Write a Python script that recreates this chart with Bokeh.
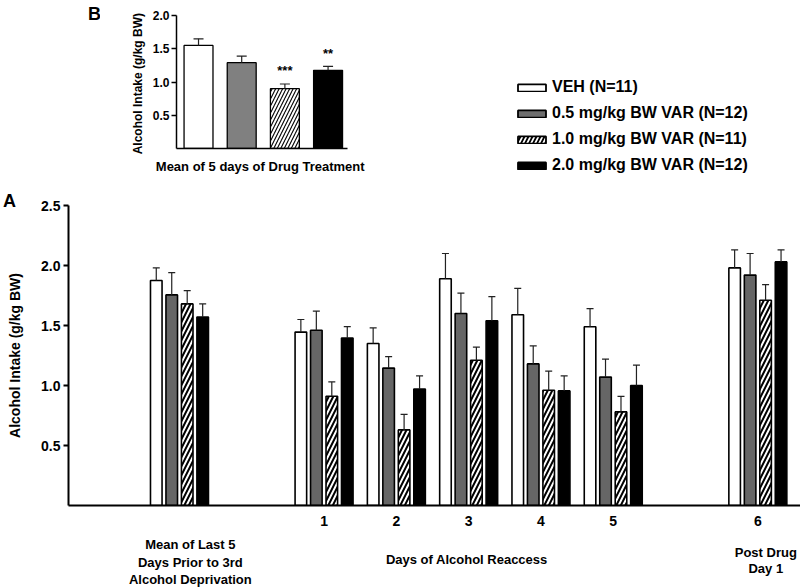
import numpy as np
from bokeh.plotting import figure
from bokeh.models import (ColumnDataSource, Whisker, TeeHead, Range1d, FixedTicker,
                          Legend, LegendItem, NumeralTickFormatter)
from bokeh.core.properties import value
from bokeh.layouts import column, row
from bokeh.embed import file_html
from bokeh.resources import INLINE

FONT = "Liberation Sans"

# ---------------- data ----------------
series_names = ["VEH (N=11)", "0.5 mg/kg BW VAR (N=12)",
                "1.0 mg/kg BW VAR (N=11)", "2.0 mg/kg BW VAR (N=12)"]

# Panel A
group_pos = [0, 2, 3, 4, 5, 6, 8]
day_tick_pos = [2, 3, 4, 5, 6, 8]
day_tick_labels = ["1", "2", "3", "4", "5", "6"]
veh = [1.875, 1.445, 1.35, 1.89, 1.59, 1.49, 1.98]
veh_err = [0.105, 0.105, 0.13, 0.21, 0.22, 0.15, 0.15]
var05 = [1.755, 1.46, 1.145, 1.60, 1.18, 1.07, 1.92]
var05_err = [0.185, 0.16, 0.095, 0.17, 0.15, 0.15, 0.18]
var10 = [1.68, 0.91, 0.63, 1.21, 0.96, 0.78, 1.71]
var10_err = [0.11, 0.12, 0.13, 0.11, 0.16, 0.13, 0.13]
var20 = [1.57, 1.395, 0.97, 1.54, 0.955, 1.00, 2.03]
var20_err = [0.11, 0.095, 0.11, 0.20, 0.125, 0.17, 0.10]
group_label_pos = [0.15, 4.0, 8.11]
group_label_lines = [["Mean of Last 5", "Days Prior to 3rd", "Alcohol Deprivation"],
                     ["Days of  Alcohol Reaccess"],
                     ["Post Drug", "Day 1"]]

# Panel B
b_means = [1.55, 1.29, 0.90, 1.175]
b_err = [0.10, 0.10, 0.07, 0.06]
b_stars = ["", "", "***", "**"]

main_fills = ["white", "#666666", "white", "black"]
inset_fills = ["white", "#808080", "white", "black"]
legend_fills = ["white", "#6e6e6e", "white", "black"]
hatches = [" ", " ", "/", " "]


def bare(fig):
    fig.grid.visible = False
    fig.outline_line_color = None
    return fig


# ---------------- Panel B (inset) ----------------
bfig = bare(figure(width=100, height=190, x_range=Range1d(0, 100), y_range=Range1d(190, 0),
                   x_axis_location=None, y_axis_location=None, min_border=0,
                   output_backend="svg", toolbar_location=None))
bfig.text(x=[94], y=[13], text=["B"], text_font=value(FONT), text_font_style="bold",
          text_font_size="18px", text_align="center", text_baseline="middle", text_color="black")

inset = bare(figure(width=320, height=190, x_range=Range1d(-0.51, 3.45), y_range=Range1d(0, 2.0),
                    output_backend="svg", toolbar_location=None,
                    min_border_left=76, min_border_right=73, min_border_top=15, min_border_bottom=42))
bx = np.arange(4, dtype=float)
bm = np.array(b_means)
for k in range(4):
    src = ColumnDataSource(dict(x=[bx[k]], top=[bm[k]], upper=[bm[k] + b_err[k]]))
    inset.add_layout(Whisker(source=src, base="x", lower="top", upper="upper",
                             dimension="height", line_color="#222222", line_width=1.2,
                             upper_head=TeeHead(size=10, line_width=1.2, line_color="#222222"),
                             lower_head=None, level="glyph"))
    inset.vbar(x="x", top="top", width=0.67, source=src, fill_color=inset_fills[k],
               line_color="black", line_width=1.3, hatch_pattern=hatches[k],
               hatch_color="black", hatch_weight=1.1, hatch_scale=7)
star_x = [bx[k] for k in range(4) if b_stars[k]]
star_y = [bm[k] + b_err[k] + 0.2 for k in range(4) if b_stars[k]]
star_t = [s for s in b_stars if s]
inset.text(x=star_x, y=star_y, text=star_t, text_font=value(FONT), text_font_style="bold",
           text_font_size="13px", text_align="center", text_baseline="middle", text_color="black")

inset.yaxis.ticker = FixedTicker(ticks=[0.5, 1.0, 1.5, 2.0])
inset.yaxis.formatter = NumeralTickFormatter(format="0.0")
inset.yaxis.minor_tick_line_color = None
inset.yaxis.major_tick_out = 5
inset.yaxis.major_tick_in = 0
inset.yaxis.major_tick_line_width = 1.5
inset.yaxis.axis_line_width = 1.5
inset.yaxis.major_label_standoff = 2
inset.yaxis.major_label_text_font = FONT
inset.yaxis.major_label_text_font_style = "bold"
inset.yaxis.major_label_text_font_size = "12px"
inset.yaxis.major_label_text_color = "black"
inset.yaxis.axis_label = "Alcohol  Intake (g/kg BW)"
inset.yaxis.axis_label_text_font = FONT
inset.yaxis.axis_label_text_font_style = "bold"
inset.yaxis.axis_label_text_font_size = "12px"
inset.yaxis.axis_label_text_color = "black"
inset.yaxis.axis_label_standoff = 5

inset.xaxis.ticker = FixedTicker(ticks=[])
inset.xaxis.minor_tick_line_color = None
inset.xaxis.axis_line_width = 1.5
inset.xaxis.axis_label = "Mean of 5 days of  Drug Treatment"
inset.xaxis.axis_label_text_font = FONT
inset.xaxis.axis_label_text_font_style = "bold"
inset.xaxis.axis_label_text_font_size = "13px"
inset.xaxis.axis_label_text_color = "black"
inset.xaxis.axis_label_standoff = 10

# ---------------- Legend ----------------
leg = bare(figure(width=380, height=190, x_range=Range1d(0, 1), y_range=Range1d(0, 1),
                  x_axis_location=None, y_axis_location=None, min_border=0,
                  output_backend="svg", toolbar_location=None))
items = []
for k in range(4):
    # zero-size helper renderer: only its legend swatch is visible
    r = leg.vbar(x=[0.5], top=[0], bottom=[0], width=0, fill_color=legend_fills[k],
                 line_color="black", line_width=1.8, hatch_pattern=hatches[k],
                 hatch_color="black", hatch_weight=1.8, hatch_scale=8)
    items.append(LegendItem(label=series_names[k], renderers=[r]))
legend = Legend(items=items, location=(94, 16), glyph_width=35, glyph_height=9,
                label_standoff=3, label_height=18, spacing=8, padding=0, margin=0,
                border_line_alpha=0, background_fill_alpha=0,
                label_text_font=FONT, label_text_font_style="bold",
                label_text_font_size="16px", label_text_color="black")
leg.add_layout(legend)

# ---------------- Panel A ----------------
afig = bare(figure(width=28, height=345, x_range=Range1d(0, 28), y_range=Range1d(535, 190),
                   x_axis_location=None, y_axis_location=None, min_border=0,
                   output_backend="svg", toolbar_location=None))
afig.text(x=[9], y=[200], text=["A"], text_font=value(FONT), text_font_style="bold",
          text_font_size="18px", text_align="center", text_baseline="middle", text_color="black")
afig.text(x=[14], y=[355], text=["Alcohol Intake (g/kg BW)"], angle=np.pi / 2,
          text_font=value(FONT), text_font_style="bold", text_font_size="14px",
          text_align="center", text_baseline="middle", text_color="black")

xr = Range1d(-1.535, 8.59)
main = bare(figure(width=772, height=345, x_range=xr, y_range=Range1d(0, 2.5),
                   output_backend="svg", toolbar_location=None,
                   min_border_left=40, min_border_right=0, min_border_top=15, min_border_bottom=30))

offsets = [-0.321, -0.107, 0.107, 0.321]
all_vals = [veh, var05, var10, var20]
all_errs = [veh_err, var05_err, var10_err, var20_err]
for k in range(4):
    xs = np.array(group_pos, dtype=float) + offsets[k]
    tops = np.array(all_vals[k])
    src = ColumnDataSource(dict(x=xs, top=tops, upper=tops + np.array(all_errs[k])))
    main.add_layout(Whisker(source=src, base="x", lower="top", upper="upper",
                            dimension="height", line_color="#222222", line_width=1.2,
                            upper_head=TeeHead(size=7, line_width=1.2, line_color="#222222"),
                            lower_head=None, level="glyph"))
    main.vbar(x="x", top="top", width=0.16, source=src, fill_color=main_fills[k],
              line_color="black", line_width=1.6, hatch_pattern=hatches[k],
              hatch_color="black", hatch_weight=2.0, hatch_scale=9)

main.yaxis.ticker = FixedTicker(ticks=[0.5, 1.0, 1.5, 2.0, 2.5])
main.yaxis.formatter = NumeralTickFormatter(format="0.0")
main.yaxis.minor_tick_line_color = None
main.yaxis.major_tick_out = 5
main.yaxis.major_tick_in = 0
main.yaxis.major_tick_line_width = 2
main.yaxis.axis_line_width = 2
main.yaxis.major_label_standoff = 3
main.yaxis.major_label_text_font = FONT
main.yaxis.major_label_text_font_style = "bold"
main.yaxis.major_label_text_font_size = "14px"
main.yaxis.major_label_text_color = "black"

main.xaxis.ticker = FixedTicker(ticks=day_tick_pos)
main.xaxis.major_label_overrides = {p: l for p, l in zip(day_tick_pos, day_tick_labels)}
main.xaxis.minor_tick_line_color = None
main.xaxis.major_tick_line_color = None
main.xaxis.major_tick_out = 0
main.xaxis.major_tick_in = 0
main.xaxis.axis_line_width = 2
main.xaxis.major_label_standoff = 10
main.xaxis.major_label_text_font = FONT
main.xaxis.major_label_text_font_style = "bold"
main.xaxis.major_label_text_font_size = "14px"
main.xaxis.major_label_text_color = "black"

# group labels under the axis, sharing the x scale of panel A
strip = bare(figure(width=800, height=53, x_range=xr, y_range=Range1d(588, 535),
                    x_axis_location=None, y_axis_location=None,
                    min_border_left=68, min_border_right=0, min_border_top=0, min_border_bottom=0,
                    output_backend="svg", toolbar_location=None))
line_y = {1: [559], 2: [552, 568], 3: [544, 562, 579]}
tx, ty, tt = [], [], []
for pos, lines in zip(group_label_pos, group_label_lines):
    for yy, t in zip(line_y[len(lines)], lines):
        tx.append(pos)
        ty.append(yy)
        tt.append(t)
strip.text(x=tx, y=ty, text=tt, text_font=value(FONT), text_font_style="bold",
           text_font_size="13px", text_align="center", text_baseline="middle", text_color="black")

layout = column(row(column(bfig), column(inset), column(leg)),
                row(column(afig), column(main)),
                strip)
open("out.html", "w").write(file_html(layout, INLINE))
